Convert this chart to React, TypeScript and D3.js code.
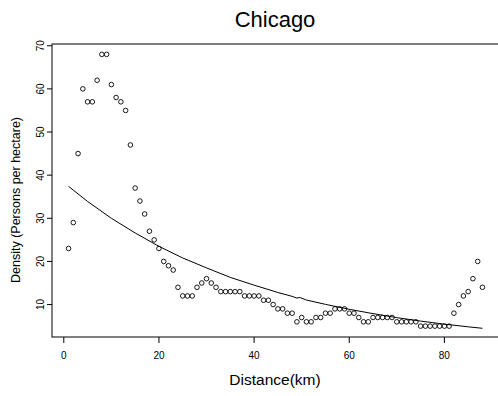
import React from "react";
import * as d3 from "d3";

const distanceKm = [
  1, 2, 3, 4, 5, 6, 7, 8, 9, 10, 11, 12, 13, 14, 15, 16, 17, 18, 19, 20,
  21, 22, 23, 24, 25, 26, 27, 28, 29, 30, 31, 32, 33, 34, 35, 36, 37, 38, 39, 40,
  41, 42, 43, 44, 45, 46, 47, 48, 49, 50, 51, 52, 53, 54, 55, 56, 57, 58, 59, 60,
  61, 62, 63, 64, 65, 66, 67, 68, 69, 70, 71, 72, 73, 74, 75, 76, 77, 78, 79, 80,
  81, 82, 83, 84, 85, 86, 87, 88,
];
const density = [
  23, 29, 45, 60, 57, 57, 62, 68, 68, 61, 58, 57, 55, 47, 37, 34, 31, 27, 25, 23,
  20, 19, 18, 14, 12, 12, 12, 14, 15, 16, 15, 14, 13, 13, 13, 13, 13, 12, 12, 12,
  12, 11, 11, 10, 9, 9, 8, 8, 6, 7, 6, 6, 7, 7, 8, 8, 9, 9, 9, 8,
  8, 7, 6, 6, 7, 7, 7, 7, 7, 6, 6, 6, 6, 6, 5, 5, 5, 5, 5, 5,
  5, 8, 10, 12, 13, 16, 20, 14,
];
// fitted curve
const fitKm = [1, 5, 10, 15, 20, 25, 30, 35, 40, 45, 48, 49, 49.6, 51, 55, 60, 65, 70, 75, 80, 85, 88];
const fitValue = [37.4, 33.9, 30.0, 26.6, 23.5, 20.8, 18.5, 16.3, 14.5, 12.8, 11.9, 11.5, 11.65, 11.05, 10.05, 8.9, 7.9, 6.97, 6.17, 5.46, 4.84, 4.5];

const xTicks = [0, 20, 40, 60, 80];
const yTicks = [10, 20, 30, 40, 50, 60, 70];

const W = 498;
const H = 396;
const left = 52;
const right = 499;
const top = 43.5;
const bottom = 337;

export default function App() {
  const x = d3.scaleLinear().domain([-2.48, 91.48]).range([left, right]);
  const y = d3.scaleLinear().domain([2.48, 70.52]).range([bottom, top]);
  const pts = distanceKm.map((d, i) => [d, density[i]] as [number, number]);
  const fit = fitKm.map((d, i) => [d, fitValue[i]] as [number, number]);
  const line = d3
    .line<[number, number]>()
    .x((d) => x(d[0]))
    .y((d) => y(d[1]))
    .curve(d3.curveLinear);
  const font = "Liberation Sans, Arial, sans-serif";
  return (
    <svg
      width={W}
      height={H}
      style={{ position: "absolute", left: 0, top: 0, background: "#fff" }}
      fontFamily={font}
    >
      <rect x={0} y={0} width={W} height={H} fill="#fff" />
      <text x={275} y={27} textAnchor="middle" fontSize={22} fill="#000">
        Chicago
      </text>
      {/* box */}
      <rect x={left} y={44} width={right - left} height={bottom - 44} fill="none" stroke="#000" strokeWidth={1} />
      {/* x axis ticks */}
      {xTicks.map((t) => (
        <g key={"x" + t}>
          <line x1={x(t)} x2={x(t)} y1={bottom} y2={bottom + 6} stroke="#000" strokeWidth={1} />
          <text x={x(t)} y={359} textAnchor="middle" fontSize={10} fill="#000">
            {t}
          </text>
        </g>
      ))}
      {/* y axis ticks */}
      {yTicks.map((t) => (
        <g key={"y" + t}>
          <line x1={left - 5} x2={left} y1={y(t)} y2={y(t)} stroke="#000" strokeWidth={1} />
          <text
            transform={`translate(${43.5},${y(t)}) rotate(-90)`}
            textAnchor="middle"
            fontSize={10}
            fill="#000"
          >
            {t}
          </text>
        </g>
      ))}
      <text x={275} y={385} textAnchor="middle" fontSize={15.5} fill="#000">
        Distance(km)
      </text>
      <text
        transform={`translate(${19.5},${200}) rotate(-90)`}
        textAnchor="middle"
        fontSize={12.5}
        fill="#000"
      >
        Density (Persons per hectare)
      </text>
      <path d={line(fit) || ""} fill="none" stroke="#000" strokeWidth={1} />
      {pts.map((p, i) => (
        <circle key={i} cx={x(p[0])} cy={y(p[1])} r={2.3} fill="none" stroke="#000" strokeWidth={0.9} />
      ))}
    </svg>
  );
}
